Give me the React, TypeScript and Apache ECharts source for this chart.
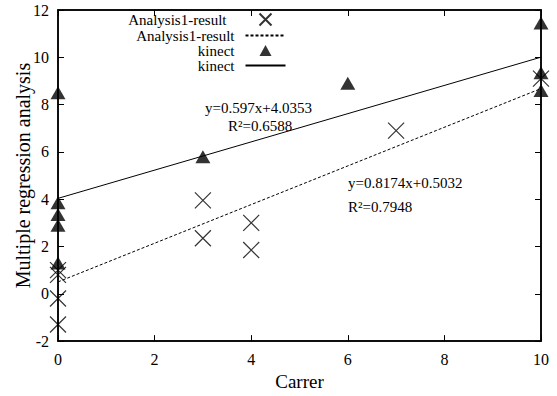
import React, { useEffect, useRef } from "react";
import * as echarts from "echarts";

const analysisPoints: [number, number][] = [
  [0, -1.3], [0, -0.2], [0, 0.8], [0, 1.0], [3, 3.95], [3, 2.35],
  [4, 3.0], [4, 1.85], [7, 6.9], [10, 9.1],
];
const kinectPoints: [number, number][] = [
  [0, 8.5], [0, 3.85], [0, 3.35], [0, 2.9], [0, 1.3], [3, 5.8],
  [6, 8.9], [10, 11.45], [10, 9.35], [10, 8.6],
];
const analysisFit: [number, number][] = [[0, 0.5032], [10, 8.6772]];
const kinectFit: [number, number][] = [[0, 4.0353], [10, 10.0053]];
const seriesNames = ["Analysis1-result", "Analysis1-result ", "kinect", "kinect "];
const xTicks = { min: 0, max: 10, interval: 2 };
const yTicks = { min: -2, max: 12, interval: 2 };

const FONT = "Liberation Serif";
const CROSS = "path://M0,0L10,10M10,0L0,10";
const LEGEND_CROSS = "path://M0,6L0,6M14,0L26,12M26,0L14,12M40,6L40,6";
const LEGEND_TRI = "path://M0,11L0,11M14,11L20,0L26,11ZM40,11L40,11";

export default function App() {
  const ref = useRef<HTMLDivElement>(null);
  useEffect(() => {
    const chart = echarts.init(ref.current!, undefined, { renderer: "svg" });
    const tickStyle = { show: true, inside: true, length: 6, lineStyle: { color: "#000" } };
    const lineStyle = { show: true, onZero: false, lineStyle: { color: "#000", width: 1.5 } };
    const hideSym = { color: "transparent", borderWidth: 0, opacity: 0 };
    chart.setOption({
      animation: false,
      textStyle: { fontFamily: FONT, color: "#000" },
      grid: { left: 58, right: 16, top: 10, bottom: 44, show: true, borderColor: "#000", borderWidth: 1.5 },
      legend: {
        orient: "vertical",
        right: 269,
        top: 11,
        align: "right",
        itemWidth: 40,
        itemHeight: 12,
        itemGap: 0,
        padding: 0,
        formatter: (name: string) => name.trim(),
        textStyle: {
          fontFamily: FONT, fontSize: 15, lineHeight: 15, height: 15, color: "#000",
          width: 110, align: "right", padding: [0, 6, 0, 0],
        },
        data: [
          { name: seriesNames[0], icon: LEGEND_CROSS, textStyle: { padding: [0, 14, 0, 0] } },
          { name: seriesNames[1], itemStyle: hideSym },
          { name: seriesNames[2], icon: LEGEND_TRI },
          { name: seriesNames[3], itemStyle: hideSym },
        ],
      },
      xAxis: [
        {
          type: "value", ...xTicks, position: "bottom",
          name: "Carrer", nameLocation: "middle", nameGap: 29,
          nameTextStyle: { fontFamily: FONT, fontSize: 19, color: "#000" },
          axisLine: lineStyle, axisTick: tickStyle, splitLine: { show: false },
          axisLabel: { fontFamily: FONT, fontSize: 16, color: "#000", margin: 10 },
        },
        {
          type: "value", ...xTicks, position: "top",
          axisLine: lineStyle, axisTick: tickStyle, splitLine: { show: false },
          axisLabel: { show: false },
        },
      ],
      yAxis: [
        {
          type: "value", ...yTicks, position: "left",
          name: "Multiple regression analysis", nameLocation: "middle", nameGap: 25,
          nameMoveOverlap: false,
          nameTextStyle: { fontFamily: FONT, fontSize: 20, color: "#000" },
          axisLine: lineStyle, axisTick: tickStyle, splitLine: { show: false },
          axisLabel: { fontFamily: FONT, fontSize: 16, color: "#000", margin: 9 },
        },
        {
          type: "value", ...yTicks, position: "right",
          axisLine: lineStyle, axisTick: tickStyle, splitLine: { show: false },
          axisLabel: { show: false },
        },
      ],
      series: [
        {
          name: seriesNames[0], type: "scatter", data: analysisPoints,
          symbol: CROSS, symbolSize: 16,
          itemStyle: { color: "none", borderColor: "#000", borderWidth: 1.2 },
          z: 3,
        },
        {
          name: seriesNames[1], type: "line", data: analysisFit, symbol: "none",
          lineStyle: { color: "#000", width: 1, type: [3, 2] },
          itemStyle: { color: "#000" },
        },
        {
          name: seriesNames[2], type: "scatter", data: kinectPoints,
          symbol: "triangle", symbolSize: [15, 13],
          itemStyle: { color: "#000" },
          z: 4,
        },
        {
          name: seriesNames[3], type: "line", data: kinectFit, symbol: "none",
          lineStyle: { color: "#000", width: 1 },
          itemStyle: { color: "#000" },
        },
      ],
      graphic: [
        { type: "text", left: 205, top: 100, style: { text: "y=0.597x+4.0353", font: `15px "${FONT}"`, fill: "#000" } },
        { type: "text", left: 228, top: 118, style: { text: "R²=0.6588", font: `15px "${FONT}"`, fill: "#000" } },
        { type: "text", left: 348, top: 175, style: { text: "y=0.8174x+0.5032", font: `15px "${FONT}"`, fill: "#000" } },
        { type: "text", left: 348, top: 199, style: { text: "R²=0.7948", font: `15px "${FONT}"`, fill: "#000" } },
      ],
    });
    return () => chart.dispose();
  }, []);
  return <div ref={ref} style={{ width: 557, height: 396, position: "absolute", left: 0, top: 0, background: "#fff" }} />;
}
